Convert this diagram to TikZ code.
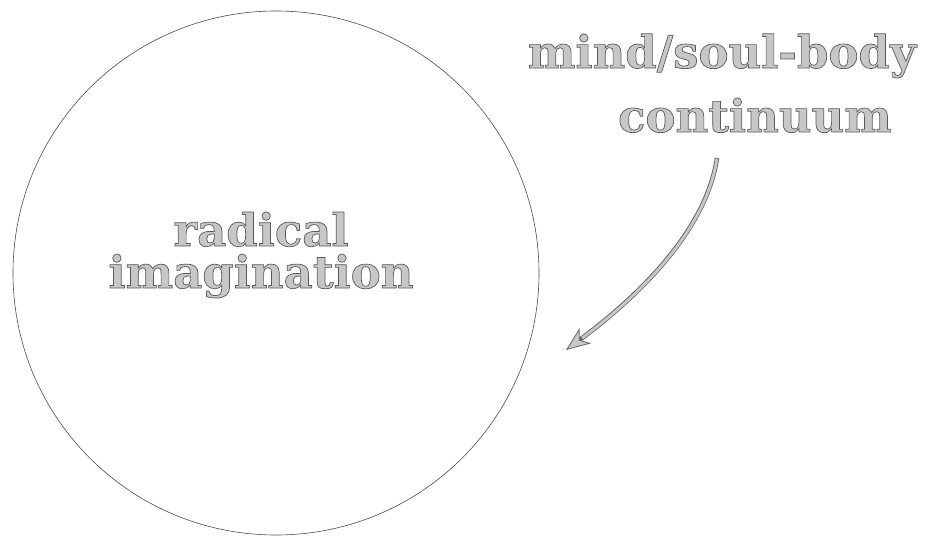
\documentclass[tikz,border=0pt]{standalone}
\usepackage{fontspec}
\usepackage{xcolor}
\newfontfamily\sketchfont{DejaVu Serif}
\newcommand\sketchy[1]{\special{pdf:literal direct 2 Tr 0.7 w 0.35 G}#1\special{pdf:literal direct 0 Tr}}
\usetikzlibrary{arrows.meta}

\begin{document}
\begin{tikzpicture}[x=1pt, y=-1pt, >=Stealth,
    word/.style={font=\sketchfont\bfseries\fontsize{45}{42}\selectfont, text=black!22, inner sep=0pt, align=center}]
    \useasboundingbox[fill=white] (0,0) rectangle (930,538);
    % the big circle
    \draw[black!70, line width=0.6pt] (276,273) ellipse [x radius=263, y radius=262];
    \node[word] (imag) at (261,255) {\sketchy{radical}\\\sketchy{imagination}};
    % label top right
    \node[word, anchor=base] (mind) at (722,68) {\sketchy{mind/soul-body}};
    \node[word, anchor=base] (cont) at (755,132) {\sketchy{continuum}};
    \coordinate (tail) at (717,158);
    \coordinate (tip) at (566,350);
    \draw[black!60, line width=4.5pt, -{Stealth[length=24pt, width=19pt, inset=7pt, fill=black!22, line width=0.8pt]}] (tail) .. controls (705,240) and (620,310) .. (tip);
    \draw[black!22, line width=2.8pt, shorten >=20pt, shorten <=0.8pt] (tail) .. controls (705,240) and (620,310) .. (tip);
\end{tikzpicture}
\end{document}
